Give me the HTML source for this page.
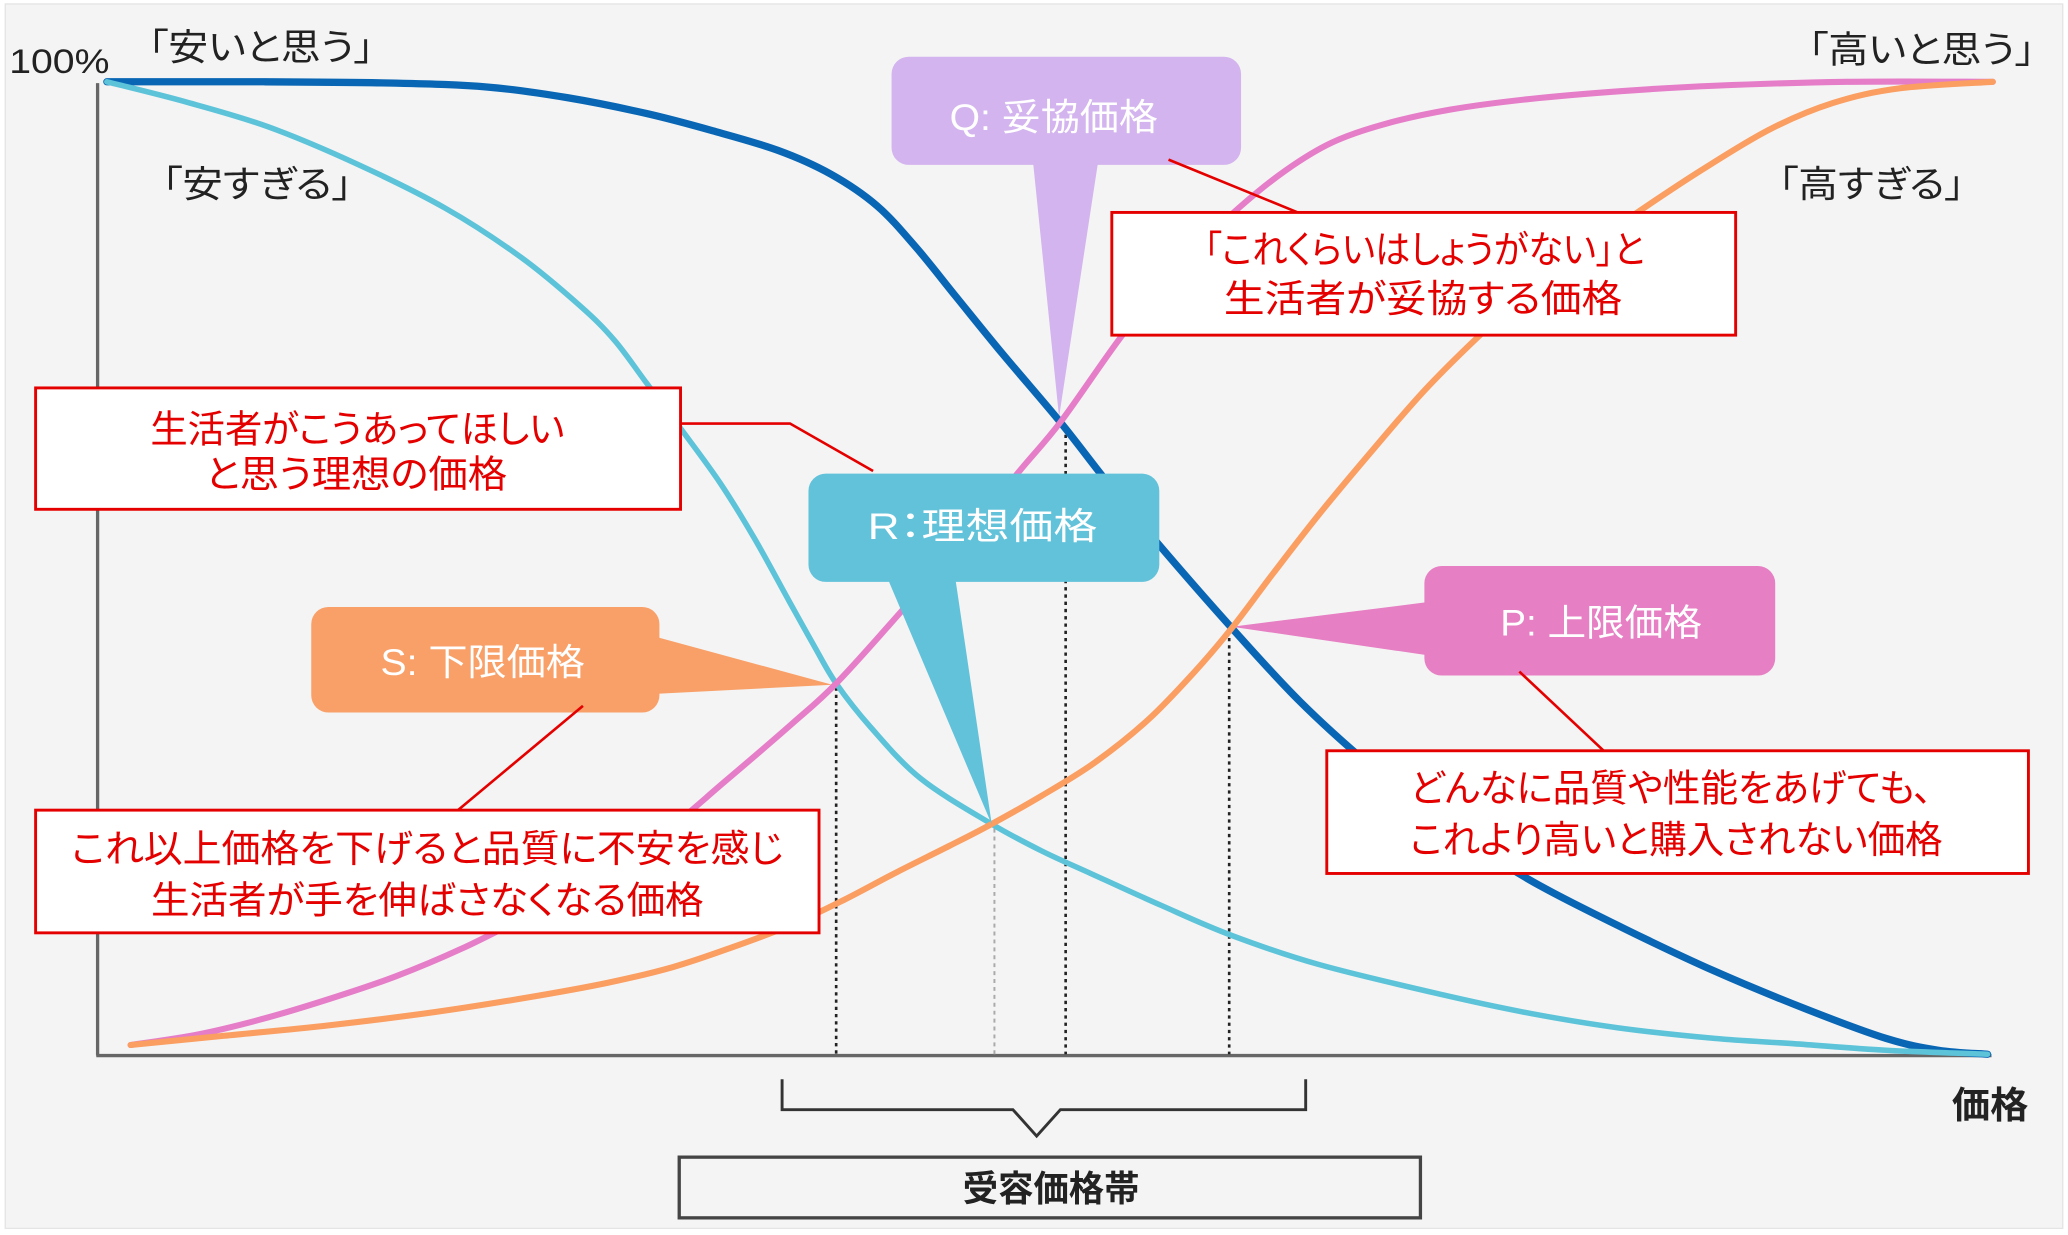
<!DOCTYPE html>
<html><head><meta charset="utf-8"><style>
html,body{margin:0;padding:0;background:#fff;}
svg{display:block}
text{font-family:"Liberation Sans","Noto Sans CJK JP",sans-serif;font-feature-settings:"palt";}
.red{fill:#e50000;font-size:29px}
.lbl{fill:#222;font-size:28px}
.cw{fill:#fff;font-size:28px}
</style></head><body>
<svg id="chart" width="2068" height="1235" viewBox="0 0 1568 936" preserveAspectRatio="none" xmlns="http://www.w3.org/2000/svg">
<rect x="0" y="0" width="1568" height="936" fill="#fff"/>
<rect x="4" y="3" width="1560" height="928" fill="#f4f4f4" stroke="#e4e4e4" stroke-width="1"/>

<!-- axes -->
<line x1="74" y1="63" x2="74" y2="800" stroke="#666" stroke-width="2.5"/>
<line x1="73" y1="800" x2="1510" y2="800" stroke="#666" stroke-width="2.5"/>

<!-- dotted verticals -->
<g stroke="#222" stroke-width="2" stroke-dasharray="2.5 3">
<line x1="634" y1="521" x2="634" y2="799"/>
<line x1="808" y1="324" x2="808" y2="799"/>
<line x1="932" y1="478" x2="932" y2="799"/>
</g>
<line x1="754" y1="628" x2="754" y2="799" stroke="#aaa" stroke-width="1.5" stroke-dasharray="3 3"/>

<!-- bracket + band box -->
<polyline points="593,818 593,841 768,841 786,861 804,841 990,841 990,818" fill="none" stroke="#333" stroke-width="2.2"/>
<rect x="515" y="877" width="562" height="46" fill="#f4f4f4" stroke="#444" stroke-width="2.5"/>
<text x="797" y="901" text-anchor="middle" dominant-baseline="central" font-weight="bold" style="fill:#222;font-size:27px" textLength="134" lengthAdjust="spacingAndGlyphs">受容価格帯</text>

<!-- Q callout -->
<rect x="676" y="43" width="265" height="82" rx="13" fill="#d3b4ee"/>
<polygon points="783,120 833,120 803,316" fill="#d3b4ee"/>
<text class="cw" x="799" y="89" text-anchor="middle" dominant-baseline="central" textLength="158" lengthAdjust="spacingAndGlyphs">Q: 妥協価格</text>

<!-- S callout -->
<rect x="236" y="460" width="264" height="80" rx="13" fill="#f9a068"/>
<polygon points="495,482 495,526 631,519" fill="#f9a068"/>
<text class="cw" x="366" y="502" text-anchor="middle" dominant-baseline="central" textLength="155" lengthAdjust="spacingAndGlyphs">S: 下限価格</text>

<!-- P callout -->
<rect x="1080" y="429" width="266" height="83" rx="13" fill="#e67fc3"/>
<polygon points="1085,456 1085,497 934,475" fill="#e67fc3"/>
<text class="cw" x="1214" y="472" text-anchor="middle" dominant-baseline="central" textLength="153" lengthAdjust="spacingAndGlyphs">P: 上限価格</text>

<!-- curves -->
<g id="curves" fill="none" stroke-linejoin="round" stroke-linecap="round">
<polyline class="smooth" stroke="#0966b4" stroke-width="5.5" points="81,62 200,62 300,63 370,66 430,74 490,86 540,99 590,114 630,132 665,156 695,188 725,225 760,268 804,320 840,366 878,412 934,476 986,532 1040,581 1100,628 1160,667 1230,703 1300,736 1370,765 1430,787 1470,796 1507,799"/>
<polyline class="smooth" stroke="#5cc3d9" stroke-width="4.2" points="81,62 140,77 203,96 270,124 338,158 395,195 440,232 466,258 490,290 517,326 546,366 572,408 598,455 617,489 634,518 660,551 698,590 751,624 790,645 827,662 880,686 934,709 1000,731 1094,754 1160,768 1227,779 1300,787 1360,791 1430,796 1507,799"/>
<polyline class="smooth" stroke="#e57dc8" stroke-width="4.6" points="99,792 150,784 200,772 250,757 300,740 350,719 400,694 450,667 500,634 550,592 600,549 634,518 682,465 730,410 773,357 804,320 848,258 890,204 940,157 975,129 1010,108 1050,94 1100,83 1160,75 1230,69 1300,65 1400,62 1511,62"/>
<polyline class="smooth" stroke="#fa9e62" stroke-width="4.6" points="99,792 170,785 250,777 330,767 400,756 460,745 510,733 555,718 600,701 640,682 680,661 720,641 751,625 790,603 830,578 870,546 905,510 934,476 965,435 1000,390 1040,342 1080,296 1120,256 1160,220 1200,190 1240,162 1290,129 1342,98 1390,78 1440,67 1511,62"/>
</g>

<!-- R callout (on top of curves) -->
<rect x="613" y="359" width="266" height="82" rx="13" fill="#62c2da"/>
<polygon points="672,436 724,436 752,625" fill="#62c2da"/>
<text class="cw" x="745" y="399" text-anchor="middle" dominant-baseline="central" textLength="174" lengthAdjust="spacingAndGlyphs">R：理想価格</text>

<!-- axis labels -->
<text x="45" y="47" text-anchor="middle" dominant-baseline="central" style="fill:#222;font-size:26px" textLength="76" lengthAdjust="spacingAndGlyphs">100%</text>
<text class="lbl" x="198" y="36" text-anchor="middle" dominant-baseline="central" textLength="171" lengthAdjust="spacingAndGlyphs">「安いと思う」</text>
<text class="lbl" x="195" y="140" text-anchor="middle" dominant-baseline="central" textLength="144" lengthAdjust="spacingAndGlyphs">「安すぎる」</text>
<text class="lbl" x="1457" y="38" text-anchor="middle" dominant-baseline="central" textLength="172" lengthAdjust="spacingAndGlyphs">「高いと思う」</text>
<text class="lbl" x="1419" y="140" text-anchor="middle" dominant-baseline="central" textLength="141" lengthAdjust="spacingAndGlyphs">「高すぎる」</text>
<text x="1509" y="838" text-anchor="middle" dominant-baseline="central" font-weight="bold" style="fill:#222;font-size:28px" textLength="58" lengthAdjust="spacingAndGlyphs">価格</text>

<!-- red connectors -->
<g stroke="#e50000" stroke-width="2" fill="none">
<line x1="886" y1="121" x2="984" y2="161"/>
<polyline points="516,321 599,321 662,357"/>
<line x1="442" y1="535" x2="346" y2="615"/>
<line x1="1152" y1="509" x2="1217" y2="570"/>
</g>

<!-- red boxes -->
<g fill="#fff" stroke="#e50000" stroke-width="2.2">
<rect x="843" y="161" width="473" height="93"/>
<rect x="27" y="294" width="489" height="92"/>
<rect x="27" y="614" width="594" height="93"/>
<rect x="1006" y="569" width="532" height="93"/>
</g>
<text class="red" x="1080" y="190" text-anchor="middle" dominant-baseline="central" textLength="334" lengthAdjust="spacingAndGlyphs">「これくらいはしょうがない」と</text>
<text class="red" x="1079" y="227" text-anchor="middle" dominant-baseline="central" textLength="302" lengthAdjust="spacingAndGlyphs">生活者が妥協する価格</text>
<text class="red" x="271" y="326" text-anchor="middle" dominant-baseline="central" textLength="314" lengthAdjust="spacingAndGlyphs">生活者がこうあってほしい</text>
<text class="red" x="270" y="360" text-anchor="middle" dominant-baseline="central" textLength="229" lengthAdjust="spacingAndGlyphs">と思う理想の価格</text>
<text class="red" x="324" y="644" text-anchor="middle" dominant-baseline="central" textLength="540" lengthAdjust="spacingAndGlyphs">これ以上価格を下げると品質に不安を感じ</text>
<text class="red" x="324" y="683" text-anchor="middle" dominant-baseline="central" textLength="419" lengthAdjust="spacingAndGlyphs">生活者が手を伸ばさなくなる価格</text>
<text class="red" x="1267" y="598" text-anchor="middle" dominant-baseline="central" textLength="396" lengthAdjust="spacingAndGlyphs">どんなに品質や性能をあげても、</text>
<text class="red" x="1271" y="637" text-anchor="middle" dominant-baseline="central" textLength="404" lengthAdjust="spacingAndGlyphs">これより高いと購入されない価格</text>
</svg>
<script>
(function(){
  var NS='http://www.w3.org/2000/svg';
  var pls=document.querySelectorAll('polyline.smooth');
  for(var k=0;k<pls.length;k++){
    var pl=pls[k];
    var pts=pl.getAttribute('points').trim().split(/\s+/).map(function(p){return p.split(',').map(Number);});
    var d='M'+pts[0][0]+','+pts[0][1];
    for(var i=0;i<pts.length-1;i++){
      var p0=pts[i-1]||pts[i],p1=pts[i],p2=pts[i+1],p3=pts[i+2]||pts[i+1];
      var c1x=p1[0]+(p2[0]-p0[0])/6,c1y=p1[1]+(p2[1]-p0[1])/6;
      var c2x=p2[0]-(p3[0]-p1[0])/6,c2y=p2[1]-(p3[1]-p1[1])/6;
      d+=' C'+c1x.toFixed(2)+','+c1y.toFixed(2)+' '+c2x.toFixed(2)+','+c2y.toFixed(2)+' '+p2[0]+','+p2[1];
    }
    var path=document.createElementNS(NS,'path');
    path.setAttribute('d',d);
    path.setAttribute('stroke',pl.getAttribute('stroke'));
    path.setAttribute('stroke-width',pl.getAttribute('stroke-width'));
    path.setAttribute('fill','none');
    pl.parentNode.insertBefore(path,pl);
    pl.parentNode.removeChild(pl);
  }
})();
</script>
</body></html>
